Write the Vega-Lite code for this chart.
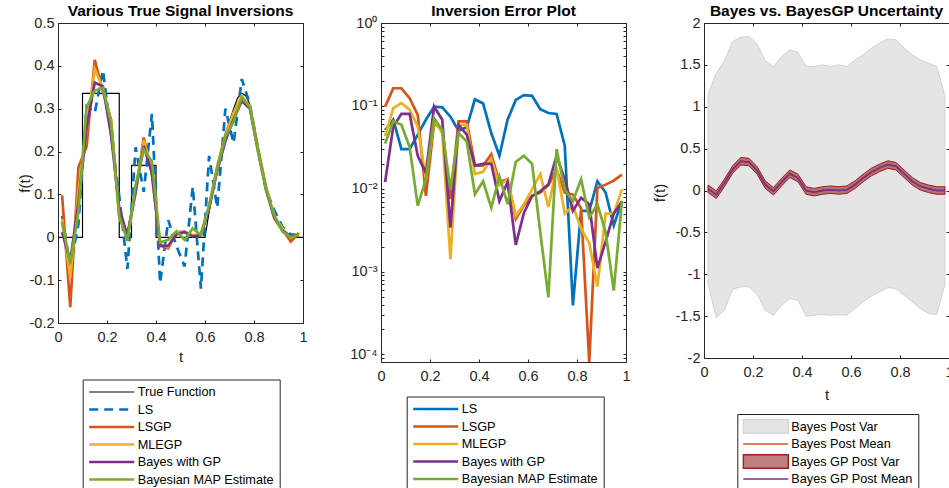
{
"$schema":"https://vega.github.io/schema/vega-lite/v6.json",
"padding":{"left":16,"top":3,"right":0,"bottom":0},
"background":"white",
"config":{
 "view":{"stroke":"#262626","strokeWidth":1},
 "axis":{"domain":false,"grid":false,"tickSize":-3,"tickColor":"#262626","tickWidth":1,"labelColor":"#262626","labelFont":"Liberation Sans","labelFontSize":14.5,"labelPadding":7,"titleFont":"Liberation Sans","titleFontSize":15,"titleFontWeight":"normal","titleColor":"#262626","labelFlush":false,"labelOverlap":false,"labelBound":false},
 "axisBottom":{"labelPadding":10.5},
 "title":{"font":"Liberation Sans","fontSize":15.5,"fontWeight":"bold","color":"#000000","offset":-4,"anchor":"middle","frame":"group","baseline":"alphabetic"},
 "legend":{"labelFont":"Liberation Sans","labelFontSize":12.7,"labelColor":"#000000","symbolType":"stroke","symbolSize":2025,"symbolStrokeWidth":2.7,"clipHeight":15,"rowPadding":2.5,"padding":5,"labelOffset":2,"strokeColor":"#262626","fillColor":"white","labelLimit":400,"symbolOpacity":1,"direction":"vertical"}
},
"datasets":{
 "sig":[
  {"t":0,"v":0,"s":"True Function"},{"t":0.1,"v":0,"s":"True Function"},{"t":0.1001,"v":0.336,"s":"True Function"},{"t":0.25,"v":0.336,"s":"True Function"},{"t":0.2501,"v":0,"s":"True Function"},{"t":0.3,"v":0,"s":"True Function"},{"t":0.3001,"v":0.168,"s":"True Function"},{"t":0.4,"v":0.168,"s":"True Function"},{"t":0.4001,"v":0,"s":"True Function"},{"t":0.6,"v":0,"s":"True Function"},{"t":0.617,"v":0.06,"s":"True Function"},{"t":0.633,"v":0.11,"s":"True Function"},{"t":0.65,"v":0.16,"s":"True Function"},{"t":0.667,"v":0.2,"s":"True Function"},{"t":0.683,"v":0.235,"s":"True Function"},{"t":0.7,"v":0.27,"s":"True Function"},{"t":0.717,"v":0.3,"s":"True Function"},{"t":0.733,"v":0.325,"s":"True Function"},{"t":0.75,"v":0.336,"s":"True Function"},{"t":0.767,"v":0.33,"s":"True Function"},{"t":0.783,"v":0.31,"s":"True Function"},{"t":0.8,"v":0.265,"s":"True Function"},{"t":0.817,"v":0.21,"s":"True Function"},{"t":0.833,"v":0.16,"s":"True Function"},{"t":0.85,"v":0.115,"s":"True Function"},{"t":0.867,"v":0.08,"s":"True Function"},{"t":0.883,"v":0.05,"s":"True Function"},{"t":0.9,"v":0.03,"s":"True Function"},{"t":0.917,"v":0.015,"s":"True Function"},{"t":0.933,"v":0.006,"s":"True Function"},{"t":0.95,"v":0.002,"s":"True Function"},{"t":0.967,"v":0,"s":"True Function"},{"t":1,"v":0,"s":"True Function"},
  {"t":0.0167,"v":0.05,"s":"LS"},{"t":0.05,"v":-0.068,"s":"LS"},{"t":0.0833,"v":0.03,"s":"LS"},{"t":0.1167,"v":0.306,"s":"LS"},{"t":0.15,"v":0.29,"s":"LS"},{"t":0.1833,"v":0.39,"s":"LS"},{"t":0.2167,"v":0.24,"s":"LS"},{"t":0.25,"v":0.096,"s":"LS"},{"t":0.2833,"v":-0.074,"s":"LS"},{"t":0.3167,"v":0.21,"s":"LS"},{"t":0.35,"v":0.106,"s":"LS"},{"t":0.3833,"v":0.288,"s":"LS"},{"t":0.4167,"v":-0.107,"s":"LS"},{"t":0.45,"v":0.04,"s":"LS"},{"t":0.4833,"v":-0.02,"s":"LS"},{"t":0.5167,"v":-0.068,"s":"LS"},{"t":0.55,"v":0.118,"s":"LS"},{"t":0.5833,"v":-0.12,"s":"LS"},{"t":0.6167,"v":0.19,"s":"LS"},{"t":0.65,"v":0.069,"s":"LS"},{"t":0.6833,"v":0.3,"s":"LS"},{"t":0.7167,"v":0.22,"s":"LS"},{"t":0.75,"v":0.369,"s":"LS"},{"t":0.7833,"v":0.31,"s":"LS"},{"t":0.8167,"v":0.205,"s":"LS"},{"t":0.85,"v":0.11,"s":"LS"},{"t":0.8833,"v":0.062,"s":"LS"},{"t":0.9167,"v":0.024,"s":"LS"},{"t":0.95,"v":0.006,"s":"LS"},{"t":0.9833,"v":0.007,"s":"LS"},
  {"t":0.0167,"v":0.098,"s":"LSGP"},{"t":0.05,"v":-0.163,"s":"LSGP"},{"t":0.0833,"v":0.163,"s":"LSGP"},{"t":0.1167,"v":0.212,"s":"LSGP"},{"t":0.15,"v":0.414,"s":"LSGP"},{"t":0.1833,"v":0.34,"s":"LSGP"},{"t":0.2167,"v":0.274,"s":"LSGP"},{"t":0.25,"v":0.051,"s":"LSGP"},{"t":0.2833,"v":0.0075,"s":"LSGP"},{"t":0.3167,"v":0.103,"s":"LSGP"},{"t":0.35,"v":0.233,"s":"LSGP"},{"t":0.3833,"v":0.15,"s":"LSGP"},{"t":0.4167,"v":-0.019,"s":"LSGP"},{"t":0.45,"v":-0.026,"s":"LSGP"},{"t":0.4833,"v":0.012,"s":"LSGP"},{"t":0.5167,"v":0.013,"s":"LSGP"},{"t":0.55,"v":0.004,"s":"LSGP"},{"t":0.5833,"v":0.006,"s":"LSGP"},{"t":0.6167,"v":0.07,"s":"LSGP"},{"t":0.65,"v":0.165,"s":"LSGP"},{"t":0.6833,"v":0.24,"s":"LSGP"},{"t":0.7167,"v":0.29,"s":"LSGP"},{"t":0.75,"v":0.325,"s":"LSGP"},{"t":0.7833,"v":0.305,"s":"LSGP"},{"t":0.8167,"v":0.205,"s":"LSGP"},{"t":0.85,"v":0.115,"s":"LSGP"},{"t":0.8833,"v":0.045,"s":"LSGP"},{"t":0.9167,"v":0.018,"s":"LSGP"},{"t":0.95,"v":-0.01,"s":"LSGP"},{"t":0.9833,"v":0.01,"s":"LSGP"},
  {"t":0.0167,"v":0.043,"s":"MLEGP"},{"t":0.05,"v":-0.094,"s":"MLEGP"},{"t":0.0833,"v":0.108,"s":"MLEGP"},{"t":0.1167,"v":0.25,"s":"MLEGP"},{"t":0.15,"v":0.392,"s":"MLEGP"},{"t":0.1833,"v":0.349,"s":"MLEGP"},{"t":0.2167,"v":0.268,"s":"MLEGP"},{"t":0.25,"v":0.047,"s":"MLEGP"},{"t":0.2833,"v":-0.0014,"s":"MLEGP"},{"t":0.3167,"v":0.109,"s":"MLEGP"},{"t":0.35,"v":0.227,"s":"MLEGP"},{"t":0.3833,"v":0.153,"s":"MLEGP"},{"t":0.4167,"v":-0.016,"s":"MLEGP"},{"t":0.45,"v":-0.023,"s":"MLEGP"},{"t":0.4833,"v":0.011,"s":"MLEGP"},{"t":0.5167,"v":0.013,"s":"MLEGP"},{"t":0.55,"v":0.005,"s":"MLEGP"},{"t":0.5833,"v":0.007,"s":"MLEGP"},{"t":0.6167,"v":0.07,"s":"MLEGP"},{"t":0.65,"v":0.16,"s":"MLEGP"},{"t":0.6833,"v":0.235,"s":"MLEGP"},{"t":0.7167,"v":0.29,"s":"MLEGP"},{"t":0.75,"v":0.33,"s":"MLEGP"},{"t":0.7833,"v":0.305,"s":"MLEGP"},{"t":0.8167,"v":0.207,"s":"MLEGP"},{"t":0.85,"v":0.113,"s":"MLEGP"},{"t":0.8833,"v":0.05,"s":"MLEGP"},{"t":0.9167,"v":0.02,"s":"MLEGP"},{"t":0.95,"v":0.0,"s":"MLEGP"},{"t":0.9833,"v":0.01,"s":"MLEGP"},
  {"t":0.0167,"v":0.012,"s":"Bayes with GP"},{"t":0.05,"v":-0.056,"s":"Bayes with GP"},{"t":0.0833,"v":0.08,"s":"Bayes with GP"},{"t":0.1167,"v":0.256,"s":"Bayes with GP"},{"t":0.15,"v":0.361,"s":"Bayes with GP"},{"t":0.1833,"v":0.352,"s":"Bayes with GP"},{"t":0.2167,"v":0.238,"s":"Bayes with GP"},{"t":0.25,"v":0.068,"s":"Bayes with GP"},{"t":0.2833,"v":0.0034,"s":"Bayes with GP"},{"t":0.3167,"v":0.109,"s":"Bayes with GP"},{"t":0.35,"v":0.213,"s":"Bayes with GP"},{"t":0.3833,"v":0.149,"s":"Bayes with GP"},{"t":0.4167,"v":-0.02,"s":"Bayes with GP"},{"t":0.45,"v":-0.02,"s":"Bayes with GP"},{"t":0.4833,"v":0.007,"s":"Bayes with GP"},{"t":0.5167,"v":0.012,"s":"Bayes with GP"},{"t":0.55,"v":0.002,"s":"Bayes with GP"},{"t":0.5833,"v":0.005,"s":"Bayes with GP"},{"t":0.6167,"v":0.068,"s":"Bayes with GP"},{"t":0.65,"v":0.155,"s":"Bayes with GP"},{"t":0.6833,"v":0.225,"s":"Bayes with GP"},{"t":0.7167,"v":0.275,"s":"Bayes with GP"},{"t":0.75,"v":0.318,"s":"Bayes with GP"},{"t":0.7833,"v":0.3,"s":"Bayes with GP"},{"t":0.8167,"v":0.2,"s":"Bayes with GP"},{"t":0.85,"v":0.108,"s":"Bayes with GP"},{"t":0.8833,"v":0.045,"s":"Bayes with GP"},{"t":0.9167,"v":0.015,"s":"Bayes with GP"},{"t":0.95,"v":0.002,"s":"Bayes with GP"},{"t":0.9833,"v":0.006,"s":"Bayes with GP"},
  {"t":0.0167,"v":0.035,"s":"Bayesian MAP Estimate"},{"t":0.05,"v":-0.062,"s":"Bayesian MAP Estimate"},{"t":0.0833,"v":0.059,"s":"Bayesian MAP Estimate"},{"t":0.1167,"v":0.304,"s":"Bayesian MAP Estimate"},{"t":0.15,"v":0.342,"s":"Bayesian MAP Estimate"},{"t":0.1833,"v":0.349,"s":"Bayesian MAP Estimate"},{"t":0.2167,"v":0.265,"s":"Bayesian MAP Estimate"},{"t":0.25,"v":0.05,"s":"Bayesian MAP Estimate"},{"t":0.2833,"v":-0.008,"s":"Bayesian MAP Estimate"},{"t":0.3167,"v":0.121,"s":"Bayesian MAP Estimate"},{"t":0.35,"v":0.205,"s":"Bayesian MAP Estimate"},{"t":0.3833,"v":0.177,"s":"Bayesian MAP Estimate"},{"t":0.4167,"v":-0.012,"s":"Bayesian MAP Estimate"},{"t":0.45,"v":-0.006,"s":"Bayesian MAP Estimate"},{"t":0.4833,"v":0.014,"s":"Bayesian MAP Estimate"},{"t":0.5167,"v":-0.006,"s":"Bayesian MAP Estimate"},{"t":0.55,"v":0.021,"s":"Bayesian MAP Estimate"},{"t":0.5833,"v":0.005,"s":"Bayesian MAP Estimate"},{"t":0.6167,"v":0.075,"s":"Bayesian MAP Estimate"},{"t":0.65,"v":0.16,"s":"Bayesian MAP Estimate"},{"t":0.6833,"v":0.235,"s":"Bayesian MAP Estimate"},{"t":0.7167,"v":0.27,"s":"Bayesian MAP Estimate"},{"t":0.75,"v":0.326,"s":"Bayesian MAP Estimate"},{"t":0.7833,"v":0.303,"s":"Bayesian MAP Estimate"},{"t":0.8167,"v":0.2,"s":"Bayesian MAP Estimate"},{"t":0.85,"v":0.11,"s":"Bayesian MAP Estimate"},{"t":0.8833,"v":0.05,"s":"Bayesian MAP Estimate"},{"t":0.9167,"v":0.013,"s":"Bayesian MAP Estimate"},{"t":0.95,"v":0.0,"s":"Bayesian MAP Estimate"},{"t":0.9833,"v":0.005,"s":"Bayesian MAP Estimate"}
 ],
 "err":[
  {"t":0.0167,"v":0.051,"s":"LS"},{"t":0.05,"v":0.068,"s":"LS"},{"t":0.0833,"v":0.03,"s":"LS"},{"t":0.1167,"v":0.03,"s":"LS"},{"t":0.15,"v":0.045,"s":"LS"},{"t":0.1833,"v":0.068,"s":"LS"},{"t":0.2167,"v":0.098,"s":"LS"},{"t":0.25,"v":0.096,"s":"LS"},{"t":0.2833,"v":0.074,"s":"LS"},{"t":0.3167,"v":0.05,"s":"LS"},{"t":0.35,"v":0.055,"s":"LS"},{"t":0.3833,"v":0.12,"s":"LS"},{"t":0.4167,"v":0.107,"s":"LS"},{"t":0.45,"v":0.047,"s":"LS"},{"t":0.4833,"v":0.025,"s":"LS"},{"t":0.5167,"v":0.068,"s":"LS"},{"t":0.55,"v":0.118,"s":"LS"},{"t":0.5833,"v":0.135,"s":"LS"},{"t":0.6167,"v":0.132,"s":"LS"},{"t":0.65,"v":0.091,"s":"LS"},{"t":0.6833,"v":0.082,"s":"LS"},{"t":0.7167,"v":0.08,"s":"LS"},{"t":0.75,"v":0.033,"s":"LS"},{"t":0.7833,"v":0.00039,"s":"LS"},{"t":0.8167,"v":0.0054,"s":"LS"},{"t":0.85,"v":0.0054,"s":"LS"},{"t":0.8833,"v":0.0123,"s":"LS"},{"t":0.9167,"v":0.009,"s":"LS"},{"t":0.95,"v":0.0036,"s":"LS"},{"t":0.9833,"v":0.0071,"s":"LS"},
  {"t":0.0167,"v":0.098,"s":"LSGP"},{"t":0.05,"v":0.163,"s":"LSGP"},{"t":0.0833,"v":0.163,"s":"LSGP"},{"t":0.1167,"v":0.124,"s":"LSGP"},{"t":0.15,"v":0.078,"s":"LSGP"},{"t":0.1833,"v":0.0082,"s":"LSGP"},{"t":0.2167,"v":0.062,"s":"LSGP"},{"t":0.25,"v":0.051,"s":"LSGP"},{"t":0.2833,"v":0.0075,"s":"LSGP"},{"t":0.3167,"v":0.065,"s":"LSGP"},{"t":0.35,"v":0.065,"s":"LSGP"},{"t":0.3833,"v":0.019,"s":"LSGP"},{"t":0.4167,"v":0.019,"s":"LSGP"},{"t":0.45,"v":0.026,"s":"LSGP"},{"t":0.4833,"v":0.012,"s":"LSGP"},{"t":0.5167,"v":0.013,"s":"LSGP"},{"t":0.55,"v":0.0043,"s":"LSGP"},{"t":0.5833,"v":0.0063,"s":"LSGP"},{"t":0.6167,"v":0.0082,"s":"LSGP"},{"t":0.65,"v":0.009,"s":"LSGP"},{"t":0.6833,"v":0.011,"s":"LSGP"},{"t":0.7167,"v":0.017,"s":"LSGP"},{"t":0.75,"v":0.009,"s":"LSGP"},{"t":0.7833,"v":0.0085,"s":"LSGP"},{"t":0.8167,"v":0.0058,"s":"LSGP"},{"t":0.85,"v":0.000081,"s":"LSGP"},{"t":0.8833,"v":0.0102,"s":"LSGP"},{"t":0.9167,"v":0.0112,"s":"LSGP"},{"t":0.95,"v":0.0125,"s":"LSGP"},{"t":0.9833,"v":0.0148,"s":"LSGP"},
  {"t":0.0167,"v":0.043,"s":"MLEGP"},{"t":0.05,"v":0.094,"s":"MLEGP"},{"t":0.0833,"v":0.108,"s":"MLEGP"},{"t":0.1167,"v":0.09,"s":"MLEGP"},{"t":0.15,"v":0.056,"s":"MLEGP"},{"t":0.1833,"v":0.013,"s":"MLEGP"},{"t":0.2167,"v":0.068,"s":"MLEGP"},{"t":0.25,"v":0.047,"s":"MLEGP"},{"t":0.2833,"v":0.0014,"s":"MLEGP"},{"t":0.3167,"v":0.059,"s":"MLEGP"},{"t":0.35,"v":0.059,"s":"MLEGP"},{"t":0.3833,"v":0.015,"s":"MLEGP"},{"t":0.4167,"v":0.016,"s":"MLEGP"},{"t":0.45,"v":0.023,"s":"MLEGP"},{"t":0.4833,"v":0.011,"s":"MLEGP"},{"t":0.5167,"v":0.013,"s":"MLEGP"},{"t":0.55,"v":0.0047,"s":"MLEGP"},{"t":0.5833,"v":0.0065,"s":"MLEGP"},{"t":0.6167,"v":0.0098,"s":"MLEGP"},{"t":0.65,"v":0.015,"s":"MLEGP"},{"t":0.6833,"v":0.006,"s":"MLEGP"},{"t":0.7167,"v":0.018,"s":"MLEGP"},{"t":0.75,"v":0.005,"s":"MLEGP"},{"t":0.7833,"v":0.0062,"s":"MLEGP"},{"t":0.8167,"v":0.0033,"s":"MLEGP"},{"t":0.85,"v":0.0022,"s":"MLEGP"},{"t":0.8833,"v":0.00066,"s":"MLEGP"},{"t":0.9167,"v":0.005,"s":"MLEGP"},{"t":0.95,"v":0.005,"s":"MLEGP"},{"t":0.9833,"v":0.0098,"s":"MLEGP"},
  {"t":0.0167,"v":0.012,"s":"Bayes with GP"},{"t":0.05,"v":0.056,"s":"Bayes with GP"},{"t":0.0833,"v":0.08,"s":"Bayes with GP"},{"t":0.1167,"v":0.08,"s":"Bayes with GP"},{"t":0.15,"v":0.025,"s":"Bayes with GP"},{"t":0.1833,"v":0.0155,"s":"Bayes with GP"},{"t":0.2167,"v":0.098,"s":"Bayes with GP"},{"t":0.25,"v":0.068,"s":"Bayes with GP"},{"t":0.2833,"v":0.0034,"s":"Bayes with GP"},{"t":0.3167,"v":0.059,"s":"Bayes with GP"},{"t":0.35,"v":0.045,"s":"Bayes with GP"},{"t":0.3833,"v":0.019,"s":"Bayes with GP"},{"t":0.4167,"v":0.02,"s":"Bayes with GP"},{"t":0.45,"v":0.02,"s":"Bayes with GP"},{"t":0.4833,"v":0.0071,"s":"Bayes with GP"},{"t":0.5167,"v":0.012,"s":"Bayes with GP"},{"t":0.55,"v":0.0021,"s":"Bayes with GP"},{"t":0.5833,"v":0.0051,"s":"Bayes with GP"},{"t":0.6167,"v":0.0082,"s":"Bayes with GP"},{"t":0.65,"v":0.0093,"s":"Bayes with GP"},{"t":0.6833,"v":0.0113,"s":"Bayes with GP"},{"t":0.7167,"v":0.025,"s":"Bayes with GP"},{"t":0.75,"v":0.013,"s":"Bayes with GP"},{"t":0.7833,"v":0.0054,"s":"Bayes with GP"},{"t":0.8167,"v":0.0078,"s":"Bayes with GP"},{"t":0.85,"v":0.0065,"s":"Bayes with GP"},{"t":0.8833,"v":0.0011,"s":"Bayes with GP"},{"t":0.9167,"v":0.0023,"s":"Bayes with GP"},{"t":0.95,"v":0.005,"s":"Bayes with GP"},{"t":0.9833,"v":0.007,"s":"Bayes with GP"},
  {"t":0.0167,"v":0.035,"s":"Bayesian MAP Estimate"},{"t":0.05,"v":0.065,"s":"Bayesian MAP Estimate"},{"t":0.0833,"v":0.059,"s":"Bayesian MAP Estimate"},{"t":0.1167,"v":0.032,"s":"Bayesian MAP Estimate"},{"t":0.15,"v":0.0062,"s":"Bayesian MAP Estimate"},{"t":0.1833,"v":0.013,"s":"Bayesian MAP Estimate"},{"t":0.2167,"v":0.071,"s":"Bayesian MAP Estimate"},{"t":0.25,"v":0.051,"s":"Bayesian MAP Estimate"},{"t":0.2833,"v":0.0098,"s":"Bayesian MAP Estimate"},{"t":0.3167,"v":0.047,"s":"Bayesian MAP Estimate"},{"t":0.35,"v":0.037,"s":"Bayesian MAP Estimate"},{"t":0.3833,"v":0.0086,"s":"Bayesian MAP Estimate"},{"t":0.4167,"v":0.0123,"s":"Bayesian MAP Estimate"},{"t":0.45,"v":0.0059,"s":"Bayesian MAP Estimate"},{"t":0.4833,"v":0.014,"s":"Bayesian MAP Estimate"},{"t":0.5167,"v":0.0065,"s":"Bayesian MAP Estimate"},{"t":0.55,"v":0.021,"s":"Bayesian MAP Estimate"},{"t":0.5833,"v":0.025,"s":"Bayesian MAP Estimate"},{"t":0.6167,"v":0.02,"s":"Bayesian MAP Estimate"},{"t":0.65,"v":0.003,"s":"Bayesian MAP Estimate"},{"t":0.6833,"v":0.00049,"s":"Bayesian MAP Estimate"},{"t":0.7167,"v":0.03,"s":"Bayesian MAP Estimate"},{"t":0.75,"v":0.0098,"s":"Bayesian MAP Estimate"},{"t":0.7833,"v":0.0071,"s":"Bayesian MAP Estimate"},{"t":0.8167,"v":0.013,"s":"Bayesian MAP Estimate"},{"t":0.85,"v":0.0045,"s":"Bayesian MAP Estimate"},{"t":0.8833,"v":0.0065,"s":"Bayesian MAP Estimate"},{"t":0.9167,"v":0.003,"s":"Bayesian MAP Estimate"},{"t":0.95,"v":0.00059,"s":"Bayesian MAP Estimate"},{"t":0.9833,"v":0.0071,"s":"Bayesian MAP Estimate"}
 ],
 "unc":[
  {"t":0.0167,"lo":-1.12,"hi":1.15,"m":0.02,"glo":-0.025,"ghi":0.065},
  {"t":0.05,"lo":-1.52,"hi":1.4,"m":-0.05,"glo":-0.095,"ghi":-0.005},
  {"t":0.0833,"lo":-1.43,"hi":1.55,"m":0.09,"glo":0.045,"ghi":0.135},
  {"t":0.1167,"lo":-1.18,"hi":1.78,"m":0.25,"glo":0.205,"ghi":0.295},
  {"t":0.15,"lo":-1.15,"hi":1.83,"m":0.35,"glo":0.305,"ghi":0.395},
  {"t":0.1833,"lo":-1.15,"hi":1.84,"m":0.34,"glo":0.295,"ghi":0.385},
  {"t":0.2167,"lo":-1.24,"hi":1.75,"m":0.24,"glo":0.195,"ghi":0.285},
  {"t":0.25,"lo":-1.43,"hi":1.55,"m":0.07,"glo":0.025,"ghi":0.115},
  {"t":0.2833,"lo":-1.49,"hi":1.48,"m":-0.01,"glo":-0.055,"ghi":0.035},
  {"t":0.3167,"lo":-1.37,"hi":1.6,"m":0.1,"glo":0.055,"ghi":0.145},
  {"t":0.35,"lo":-1.29,"hi":1.68,"m":0.2,"glo":0.155,"ghi":0.245},
  {"t":0.3833,"lo":-1.31,"hi":1.65,"m":0.15,"glo":0.105,"ghi":0.195},
  {"t":0.4167,"lo":-1.5,"hi":1.48,"m":0.0,"glo":-0.045,"ghi":0.045},
  {"t":0.45,"lo":-1.49,"hi":1.48,"m":-0.02,"glo":-0.065,"ghi":0.025},
  {"t":0.4833,"lo":-1.48,"hi":1.5,"m":0.0,"glo":-0.045,"ghi":0.045},
  {"t":0.5167,"lo":-1.49,"hi":1.48,"m":0.01,"glo":-0.035,"ghi":0.055},
  {"t":0.55,"lo":-1.48,"hi":1.5,"m":0.0,"glo":-0.045,"ghi":0.045},
  {"t":0.5833,"lo":-1.49,"hi":1.48,"m":0.01,"glo":-0.035,"ghi":0.055},
  {"t":0.6167,"lo":-1.41,"hi":1.56,"m":0.07,"glo":0.025,"ghi":0.115},
  {"t":0.65,"lo":-1.33,"hi":1.62,"m":0.15,"glo":0.105,"ghi":0.195},
  {"t":0.6833,"lo":-1.26,"hi":1.7,"m":0.22,"glo":0.175,"ghi":0.265},
  {"t":0.7167,"lo":-1.21,"hi":1.76,"m":0.27,"glo":0.225,"ghi":0.315},
  {"t":0.75,"lo":-1.16,"hi":1.81,"m":0.31,"glo":0.265,"ghi":0.355},
  {"t":0.7833,"lo":-1.17,"hi":1.8,"m":0.29,"glo":0.245,"ghi":0.335},
  {"t":0.8167,"lo":-1.25,"hi":1.7,"m":0.2,"glo":0.155,"ghi":0.245},
  {"t":0.85,"lo":-1.33,"hi":1.62,"m":0.11,"glo":0.065,"ghi":0.155},
  {"t":0.8833,"lo":-1.41,"hi":1.56,"m":0.05,"glo":0.005,"ghi":0.095},
  {"t":0.9167,"lo":-1.47,"hi":1.52,"m":0.02,"glo":-0.025,"ghi":0.065},
  {"t":0.95,"lo":-1.48,"hi":1.48,"m":0.0,"glo":-0.045,"ghi":0.045},
  {"t":0.9833,"lo":-1.12,"hi":1.13,"m":0.0,"glo":-0.045,"ghi":0.045}
 ],
 "keys":[{"k":"Bayes Post Var"},{"k":"Bayes Post Mean"},{"k":"Bayes GP Post Var"},{"k":"Bayes GP Post Mean"}]
},
"hconcat":[
 {
  "width":245,"height":300,
  "title":"Various True Signal Inversions",
  "data":{"name":"sig"},
  "layer":[
   {"mark":{"type":"line","opacity":0},
    "encoding":{
     "x":{"field":"t","type":"quantitative","scale":{"domain":[0,1],"nice":false,"zero":false},"axis":{"orient":"top","values":[0,0.2,0.4,0.6,0.8,1],"labels":false,"title":null}},
     "y":{"field":"v","type":"quantitative","scale":{"domain":[-0.2,0.5],"nice":false,"zero":false},"axis":{"orient":"right","values":[-0.2,-0.1,0,0.1,0.2,0.3,0.4,0.5],"labels":false,"title":null}}}},
   {"mark":{"type":"line","clip":true},
    "encoding":{
     "x":{"field":"t","type":"quantitative","scale":{"domain":[0,1],"nice":false,"zero":false},"axis":{"orient":"bottom","values":[0,0.2,0.4,0.6,0.8,1],"labelExpr":"toString(datum.value)","title":"t","titleX":122.5,"titleY":33,"titleBaseline":"middle","titleAlign":"center"}},
     "y":{"field":"v","type":"quantitative","scale":{"domain":[-0.2,0.5],"nice":false,"zero":false},"axis":{"orient":"left","values":[-0.2,-0.1,0,0.1,0.2,0.3,0.4,0.5],"labelExpr":"toString(datum.value)","title":"f(t)","titleX":-34,"titleY":160,"titleAngle":-90,"titleBaseline":"middle","titleAlign":"center"}},
     "color":{"field":"s","type":"nominal","scale":{"domain":["True Function","LS","LSGP","MLEGP","Bayes with GP","Bayesian MAP Estimate"],"range":["#000000","#0072BD","#D95319","#EDB120","#7E2F8E","#77AC30"]},
      "legend":{"title":null,"orient":"none","legendX":24.7,"legendY":356.5}},
     "strokeDash":{"field":"s","type":"nominal","scale":{"domain":["True Function","LS","LSGP","MLEGP","Bayes with GP","Bayesian MAP Estimate"],"range":[[1,0],[9,6],[1,0],[1,0],[1,0],[1,0]]},"legend":{"title":null}},
     "strokeWidth":{"field":"s","type":"nominal","scale":{"type":"ordinal","domain":["True Function","LS","LSGP","MLEGP","Bayes with GP","Bayesian MAP Estimate"],"range":[1.2,2.7,2.7,2.7,2.7,2.7]},"legend":{"title":null}}
    }}
  ],
  "resolve":{"axis":{"x":"independent","y":"independent"}}
 },
 {
  "width":245,"height":339,
  "title":"Inversion Error Plot",
  "data":{"name":"err"},
  "layer":[
   {"mark":{"type":"line","opacity":0},
    "encoding":{
     "x":{"field":"t","type":"quantitative","scale":{"domain":[0,1],"nice":false,"zero":false},"axis":{"orient":"top","values":[0,0.2,0.4,0.6,0.8,1],"labels":false,"title":null}},
     "y":{"field":"v","type":"quantitative","scale":{"type":"log","domain":[0.000081,1],"nice":false},"axis":{"orient":"right","values":[0.00009,0.0001,0.0002,0.0003,0.0004,0.0005,0.0006,0.0007,0.0008,0.0009,0.001,0.002,0.003,0.004,0.005,0.006,0.007,0.008,0.009,0.01,0.02,0.03,0.04,0.05,0.06,0.07,0.08,0.09,0.1,0.2,0.3,0.4,0.5,0.6,0.7,0.8,0.9,1],"labels":false,"title":null}}}},
   {"mark":{"type":"line","clip":true,"strokeWidth":2.7},
    "encoding":{
     "x":{"field":"t","type":"quantitative","scale":{"domain":[0,1],"nice":false,"zero":false},"axis":{"orient":"bottom","values":[0,0.2,0.4,0.6,0.8,1],"labelExpr":"toString(datum.value)","title":null}},
     "y":{"field":"v","type":"quantitative","scale":{"type":"log","domain":[0.000081,1],"nice":false},"axis":{"orient":"left","values":[0.00009,0.0001,0.0002,0.0003,0.0004,0.0005,0.0006,0.0007,0.0008,0.0009,0.001,0.002,0.003,0.004,0.005,0.006,0.007,0.008,0.009,0.01,0.02,0.03,0.04,0.05,0.06,0.07,0.08,0.09,0.1,0.2,0.3,0.4,0.5,0.6,0.7,0.8,0.9,1],"labelExpr":"datum.value == 1 ? '10⁰' : datum.value == 0.1 ? '10⁻¹' : datum.value == 0.01 ? '10⁻²' : datum.value == 0.001 ? '10⁻³' : datum.value == 0.0001 ? '10⁻⁴' : ''","title":null}},
     "color":{"field":"s","type":"nominal","scale":{"domain":["LS","LSGP","MLEGP","Bayes with GP","Bayesian MAP Estimate"],"range":["#0072BD","#D95319","#EDB120","#7E2F8E","#77AC30"]},
      "legend":{"title":null,"orient":"none","legendX":25.7,"legendY":373.5}}
    }}
  ],
  "resolve":{"axis":{"x":"independent","y":"independent"}}
 },
 {
  "width":245,"height":335,
  "title":"Bayes vs. BayesGP Uncertainty",
  "data":{"name":"unc"},
  "layer":[
   {"mark":{"type":"area","clip":true,"fill":"#e5e5e5","stroke":"#d2d2d2","strokeWidth":1},
    "encoding":{
     "x":{"field":"t","type":"quantitative","scale":{"domain":[0,1],"nice":false,"zero":false},"axis":{"orient":"bottom","values":[0,0.2,0.4,0.6,0.8,1],"labelExpr":"toString(datum.value)","title":"t","titleX":122.5,"titleY":36,"titleBaseline":"middle","titleAlign":"center"}},
     "y":{"field":"lo","type":"quantitative","scale":{"domain":[-2,2],"nice":false,"zero":false},"axis":{"orient":"left","values":[-2,-1.5,-1,-0.5,0,0.5,1,1.5,2],"labelExpr":"toString(datum.value)","title":"f(t)","titleX":-45,"titleY":169.5,"titleAngle":-90,"titleBaseline":"middle","titleAlign":"center"}},
     "y2":{"field":"hi"}
    }},
   {"mark":{"type":"line","clip":true,"strokeWidth":1.5,"stroke":"#D95319"},
    "encoding":{
     "x":{"field":"t","type":"quantitative","scale":{"domain":[0,1],"nice":false,"zero":false},"axis":{"orient":"top","values":[0,0.2,0.4,0.6,0.8,1],"labels":false,"title":null}},
     "y":{"field":"m","type":"quantitative","scale":{"domain":[-2,2],"nice":false,"zero":false},"axis":{"orient":"right","values":[-2,-1.5,-1,-0.5,0,0.5,1,1.5,2],"labels":false,"title":null}}}},
   {"mark":{"type":"area","clip":true,"fill":"#800000","fillOpacity":0.5,"stroke":"#a01a1a","strokeWidth":1},
    "encoding":{
     "x":{"field":"t","type":"quantitative","axis":null},
     "y":{"field":"glo","type":"quantitative","axis":null},
     "y2":{"field":"ghi"}}},
   {"mark":{"type":"line","clip":true,"strokeWidth":1.5,"stroke":"#7E2F8E"},
    "encoding":{
     "x":{"field":"t","type":"quantitative","axis":null},
     "y":{"field":"m","type":"quantitative","axis":null}}},
   {"data":{"name":"keys"},
    "mark":{"type":"point","opacity":0,"filled":false},
    "encoding":{
     "fill":{"field":"k","type":"nominal","scale":{"domain":["Bayes Post Var","Bayes Post Mean","Bayes GP Post Var","Bayes GP Post Mean"],"range":["#e5e5e5","transparent","#bf8080","transparent"]},
      "legend":{"title":null,"orient":"none","legendX":33.3,"legendY":391,"symbolStrokeWidth":1.5}},
     "stroke":{"field":"k","type":"nominal","scale":{"domain":["Bayes Post Var","Bayes Post Mean","Bayes GP Post Var","Bayes GP Post Mean"],"range":["#d6d6d6","#D95319","#9e2020","#7E2F8E"]},"legend":{"title":null}},
     "shape":{"field":"k","type":"nominal","scale":{"domain":["Bayes Post Var","Bayes Post Mean","Bayes GP Post Var","Bayes GP Post Mean"],"range":["M-1,-0.3H1V0.3H-1Z","stroke","M-1,-0.3H1V0.3H-1Z","stroke"]},"legend":{"title":null}}
    }}
  ],
  "resolve":{"axis":{"x":"independent","y":"independent"}}
 }
],
"spacing":78,
"bounds":"flush",
"resolve":{"scale":{"color":"independent","strokeDash":"independent","strokeWidth":"independent","fill":"independent","stroke":"independent","shape":"independent"},"legend":{"color":"independent","strokeDash":"independent","strokeWidth":"independent","fill":"independent","stroke":"independent","shape":"independent"}}
}
